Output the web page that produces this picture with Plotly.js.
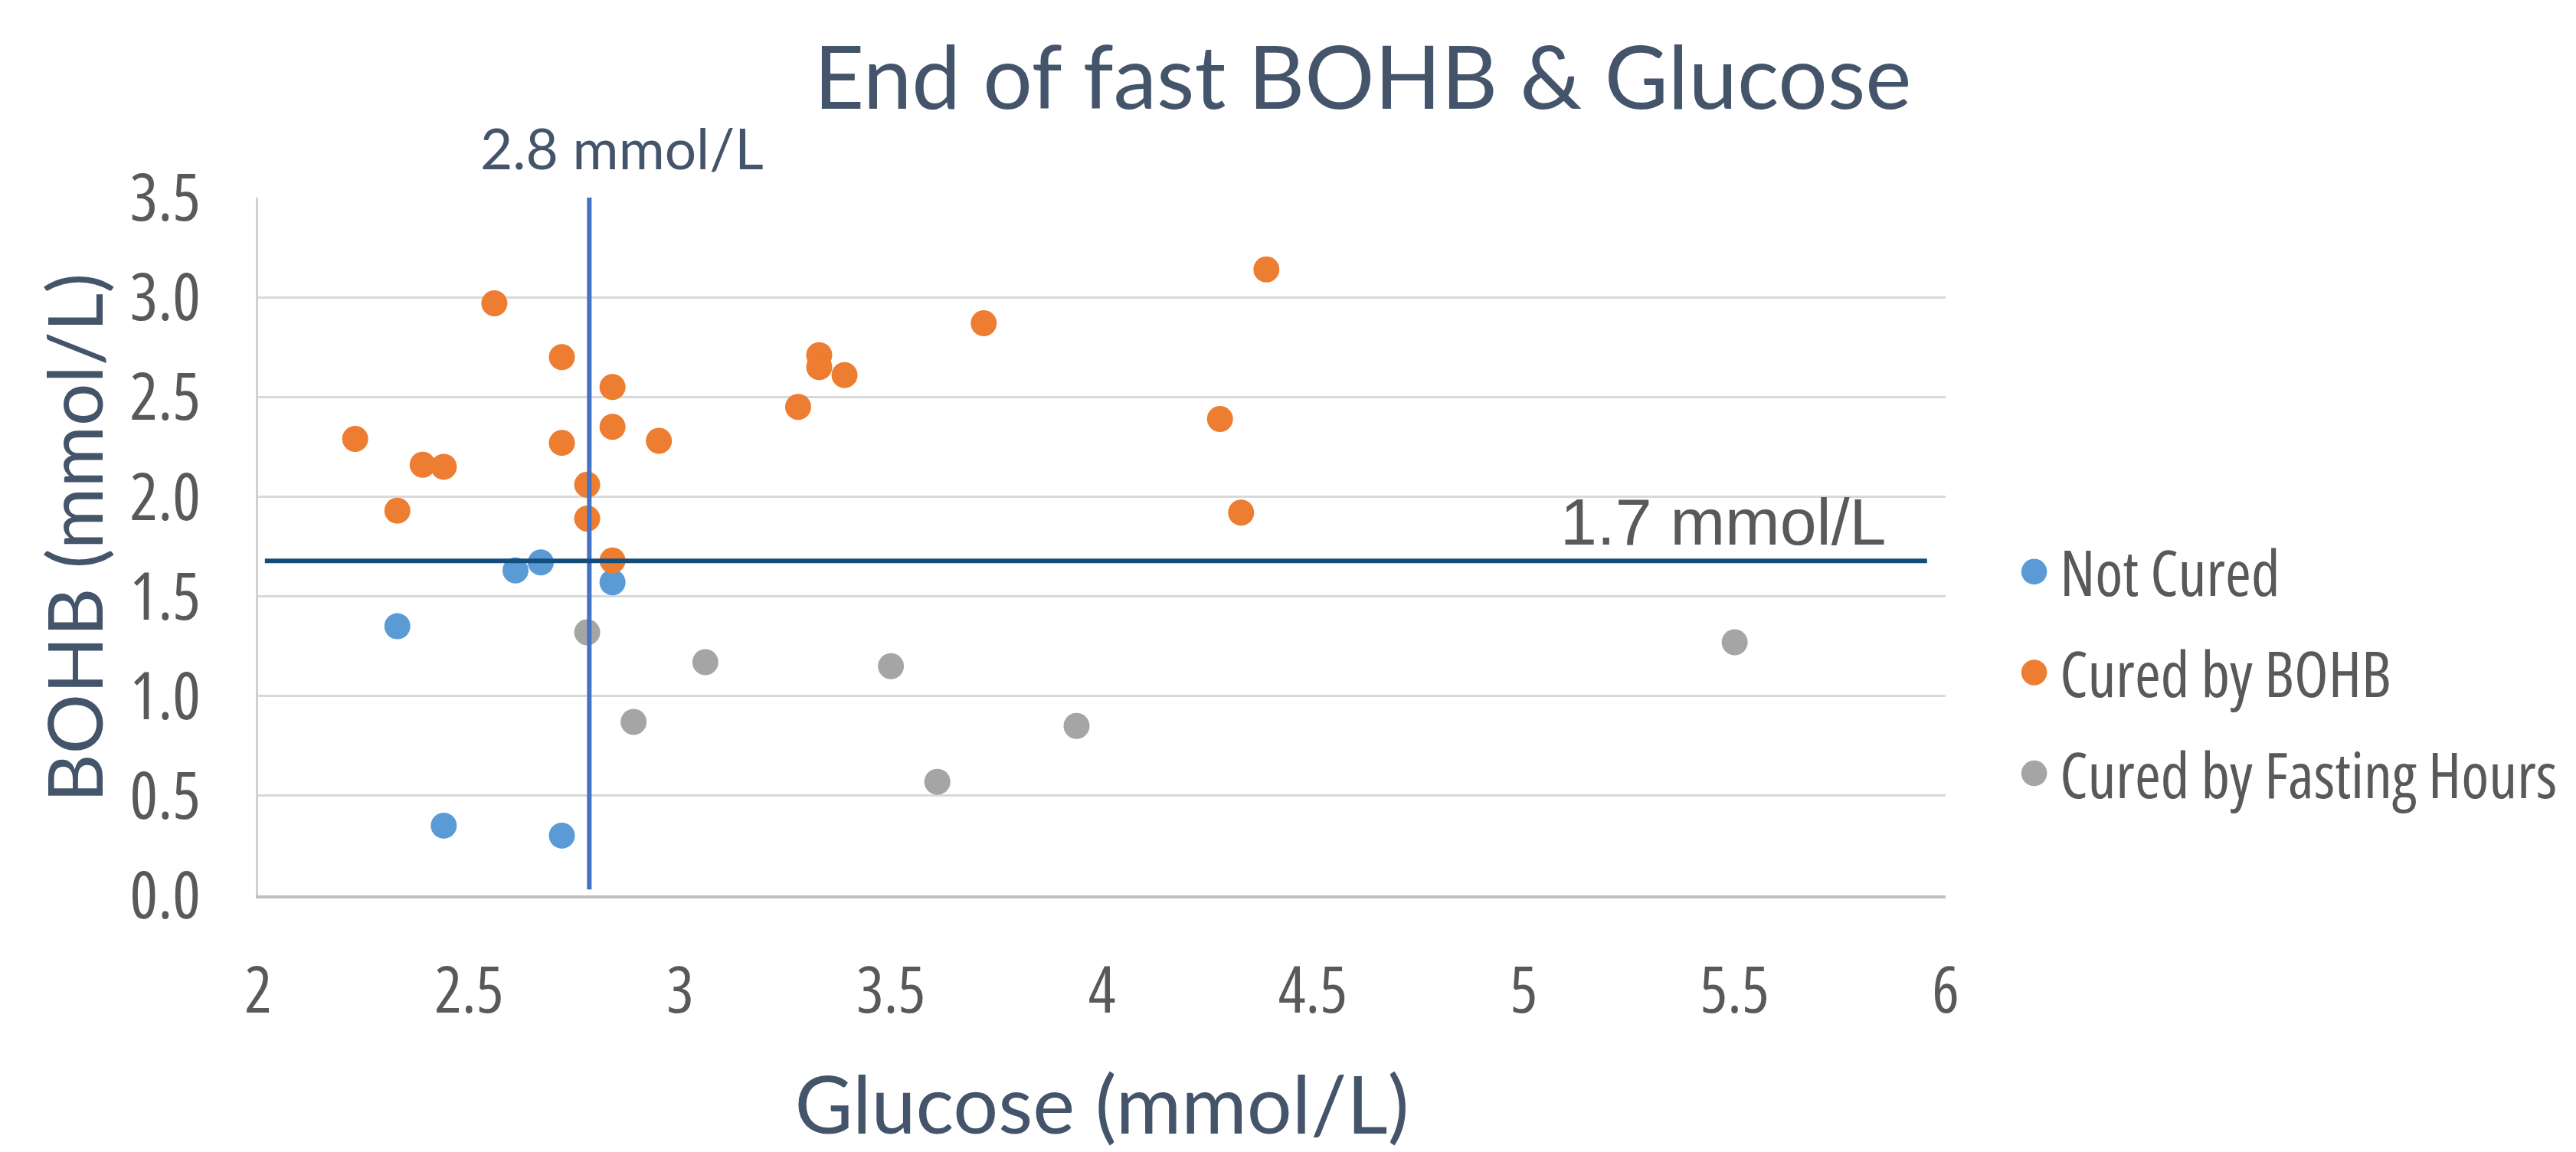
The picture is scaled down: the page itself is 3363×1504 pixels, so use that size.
<!DOCTYPE html>
<html>
<head>
<meta charset="utf-8">
<script src="https://cdn.plot.ly/plotly-3.0.1.min.js"></script>
<style>
  html, body { margin: 0; padding: 0; background: #ffffff; overflow: hidden; }
  #chart { width: 3363px; height: 1504px; }
  #chart .legendtext { font-stretch: 75%; }
  #chart .xtick text, #chart .ytick text { font-stretch: 75%; }
</style>
</head>
<body>
<div id="chart"></div>
<script>
// ---- Data ----
const notCuredGlucose = [2.33, 2.61, 2.67, 2.84, 2.44, 2.72];
const notCuredBOHB    = [1.35, 1.63, 1.67, 1.57, 0.35, 0.30];

const curedBOHBGlucose = [2.23, 2.33, 2.39, 2.44, 2.56, 2.72, 2.72, 2.78, 2.78, 2.84, 2.84, 2.84, 2.95, 3.28, 3.33, 3.33, 3.39, 3.72, 4.28, 4.33, 4.39];
const curedBOHBValues  = [2.29, 1.93, 2.16, 2.15, 2.97, 2.70, 2.27, 2.06, 1.89, 2.55, 2.35, 1.68, 2.28, 2.45, 2.71, 2.65, 2.61, 2.87, 2.39, 1.92, 3.14];

const fastingGlucose = [2.78, 3.06, 2.89, 3.50, 3.61, 3.94, 5.50];
const fastingBOHB    = [1.32, 1.17, 0.87, 1.15, 0.57, 0.85, 1.27];

const seriesNames = ["Not Cured", "Cured by BOHB", "Cured by Fasting Hours"];

// Threshold reference lines
const glucoseLineX = 2.785;
const glucoseLineY = [0.03, 3.52];
const bohbLineY = 1.678;
const bohbLineX = [2.016, 5.956];
const glucoseLabel = "2.8 mmol/L";
const bohbLabel = "1.7 mmol/L";

const titleText = "End of fast BOHB & Glucose";
const xTitle = "Glucose (mmol/L)";
const yTitle = "BOHB (mmol/L)";

// ---- Styles ----
const colors = ["#5B9BD5", "#ED7D31", "#A5A5A5"];
const FONT = "Lato, 'Open Sans', sans-serif";
const OPEN = "'Open Sans', Lato, sans-serif";
const markerSize = 34;

const traces = [
  { x: notCuredGlucose, y: notCuredBOHB, name: seriesNames[0] },
  { x: curedBOHBGlucose, y: curedBOHBValues, name: seriesNames[1] },
  { x: fastingGlucose, y: fastingBOHB, name: seriesNames[2] }
].map((t, i) => Object.assign(t, {
  type: "scatter",
  mode: "markers",
  legendgroup: "g" + i,
  marker: { color: colors[i], size: markerSize, line: { width: 0 } },
  cliponaxis: false
}));

const layout = {
  width: 3363,
  height: 1504,
  paper_bgcolor: "#ffffff",
  plot_bgcolor: "#ffffff",
  margin: { l: 337, r: 823, t: 258, b: 335, pad: 0, autoexpand: false },
  font: { family: FONT, color: "#595959" },
  title: {
    text: titleText,
    font: { family: FONT, size: 114, color: "#44546A" },
    xref: "container", x: 0.529, xanchor: "center",
    yref: "container", y: 0.932, yanchor: "middle"
  },
  showlegend: true,
  legend: {
    xref: "container", x: 0.7797, xanchor: "left",
    yref: "container", y: 0.4162, yanchor: "middle",
    font: { family: OPEN, size: 82, color: "#595959" },
    tracegroupgap: 22,
    itemsizing: "constant",
    itemwidth: 57,
    bgcolor: "rgba(0,0,0,0)"
  },
  xaxis: {
    range: [2, 6],
    tick0: 2, dtick: 0.5,
    showgrid: false,
    zeroline: false,
    showline: true, linecolor: "#BFBFBF", linewidth: 4,
    ticks: "",
    ticklabelstandoff: 48,
    tickfont: { family: OPEN, size: 84, color: "#595959" },
    title: { text: xTitle, font: { family: FONT, size: 104, color: "#44546A" }, standoff: 62 },
    automargin: false,
    fixedrange: true
  },
  yaxis: {
    range: [0, 3.5],
    tick0: 0, dtick: 0.5,
    tickformat: ".1f",
    showgrid: true, gridcolor: "#D9D9D9", gridwidth: 3,
    zeroline: false,
    showline: true, linecolor: "#D0D0D0", linewidth: 3,
    ticks: "",
    ticklabelstandoff: 55,
    tickfont: { family: OPEN, size: 86, color: "#595959" },
    title: { text: "" },
    automargin: false,
    fixedrange: true
  },
  shapes: [
    {
      type: "line", xref: "x", yref: "y",
      x0: glucoseLineX, x1: glucoseLineX, y0: glucoseLineY[0], y1: glucoseLineY[1],
      line: { color: "#4472C4", width: 6 }
    },
    {
      type: "line", xref: "x", yref: "y",
      x0: bohbLineX[0], x1: bohbLineX[1], y0: bohbLineY, y1: bohbLineY,
      line: { color: "#124E7C", width: 6 }
    }
  ],
  annotations: [
    {
      // y-axis title, placed as in the reference
      text: yTitle, xref: "paper", yref: "paper",
      x: -0.1098, y: 0.512, xanchor: "center", yanchor: "middle",
      textangle: -90, showarrow: false,
      font: { family: FONT, size: 98, color: "#44546A" }
    },
    {
      text: glucoseLabel, xref: "x", yref: "paper",
      x: 2.862, y: 1.071, xanchor: "center", yanchor: "middle",
      showarrow: false,
      font: { family: FONT, size: 73, color: "#44546A" }
    },
    {
      text: bohbLabel, xref: "x", yref: "y",
      x: 5.472, y: 1.875, xanchor: "center", yanchor: "middle",
      showarrow: false,
      font: { family: "'Liberation Sans', Arial, sans-serif", size: 86, color: "#595959" }
    }
  ]
};

Plotly.newPlot("chart", traces, layout, { displayModeBar: false, staticPlot: true }).then(gd => {
  // enlarge the legend symbols to match the chart's large legend dots
  gd.querySelectorAll(".legend .legendpoints path.scatterpts").forEach(p => {
    const t = p.getAttribute("transform") || "";
    p.setAttribute("transform", t + " scale(2.8)");
  });
});
</script>
</body>
</html>
